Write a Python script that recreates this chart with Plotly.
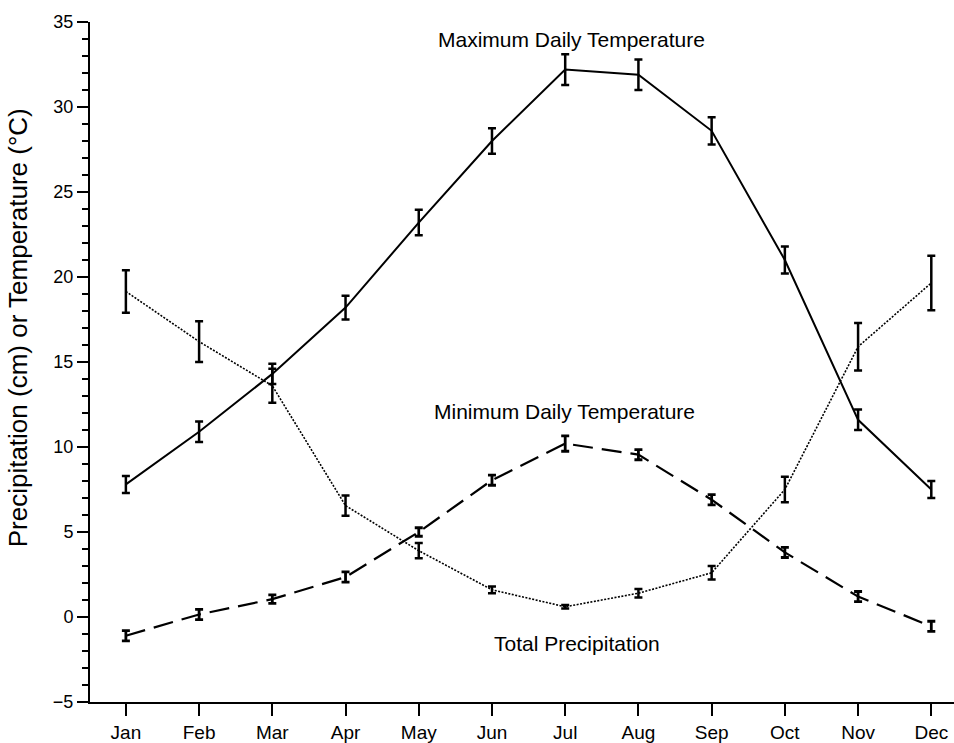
import plotly.graph_objects as go

months = ["Jan", "Feb", "Mar", "Apr", "May", "Jun",
          "Jul", "Aug", "Sep", "Oct", "Nov", "Dec"]

# Monthly climate summary with error estimates
max_temp = [7.8, 10.9, 14.3, 18.2, 23.2, 28.0, 32.2, 31.9, 28.6, 21.0, 11.6, 7.5]
max_temp_err = [0.5, 0.6, 0.6, 0.7, 0.75, 0.75, 0.9, 0.9, 0.8, 0.8, 0.6, 0.5]

min_temp = [-1.1, 0.15, 1.05, 2.35, 5.0, 8.05, 10.2, 9.55, 6.9, 3.8, 1.2, -0.55]
min_temp_err = [0.3, 0.3, 0.25, 0.3, 0.25, 0.3, 0.45, 0.3, 0.3, 0.3, 0.3, 0.3]

precip = [19.15, 16.2, 13.6, 6.55, 3.9, 1.6, 0.6, 1.4, 2.6, 7.5, 15.9, 19.65]
precip_err = [1.25, 1.2, 1.0, 0.6, 0.45, 0.2, 0.1, 0.25, 0.4, 0.75, 1.4, 1.6]

x_idx = list(range(len(months)))
FONT = "Liberation Sans, Arial, Helvetica, sans-serif"

fig = go.Figure()


def add_series(values, errors, dash, width, cap_thick):
    fig.add_trace(go.Scatter(
        x=x_idx, y=values, mode="lines",
        line=dict(color="black", width=width, dash=dash),
        error_y=dict(type="data", array=errors, visible=True,
                     color="black", thickness=cap_thick, width=4),
        showlegend=False, hoverinfo="skip",
    ))


add_series(max_temp, max_temp_err, "solid", 2.0, 2.5)
add_series(min_temp, min_temp_err, "20px,9px", 2.2, 2.8)
add_series(precip, precip_err, "2px,1.5px", 1.6, 2.5)

labels = [
    ("Maximum Daily Temperature", 6.08, 34.0),
    ("Minimum Daily Temperature", 5.99, 12.1),
    ("Total Precipitation", 6.16, -1.55),
]
for text, ax, ay in labels:
    fig.add_annotation(x=ax, y=ay, xref="x", yref="y", text=text,
                       showarrow=False,
                       font=dict(family=FONT, size=21, color="black"))

# Rotated axis title
fig.add_annotation(x=-0.083, y=17.0, xref="paper", yref="y",
                   xanchor="center", yanchor="middle",
                   text="Precipitation (cm) or Temperature (°C)",
                   textangle=-90, showarrow=False,
                   font=dict(family=FONT, size=26, color="black"))

fig.update_xaxes(
    range=[-0.49, 11.31], tickmode="array", tickvals=x_idx, ticktext=months,
    ticks="outside", ticklen=12, tickwidth=2, tickcolor="black",
    showline=True, linecolor="black", linewidth=2,
    showgrid=False, zeroline=False,
    tickfont=dict(family=FONT, size=19, color="black"),
)
fig.update_yaxes(
    range=[-5, 35], tickmode="linear", tick0=-5, dtick=5,
    ticks="outside", ticklen=11, tickwidth=2, tickcolor="black",
    minor=dict(dtick=1, ticks="outside", ticklen=6, tickwidth=2,
               tickcolor="black", showgrid=False),
    showline=True, linecolor="black", linewidth=2,
    showgrid=False, zeroline=False,
    tickfont=dict(family=FONT, size=18, color="black"),
)

fig.update_layout(
    width=954, height=743,
    margin=dict(l=90, r=0, t=22, b=39),
    paper_bgcolor="white", plot_bgcolor="white",
)

fig.write_html("out.html")
